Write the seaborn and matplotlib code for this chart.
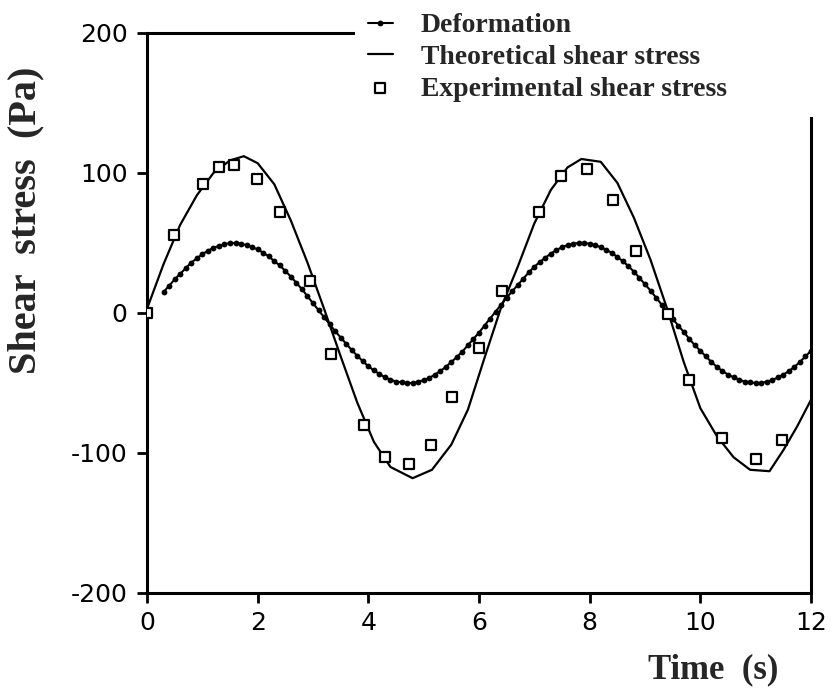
import matplotlib
matplotlib.use("Agg")
import matplotlib.pyplot as plt
import seaborn as sns

# values
time_deform = [0.3, 0.4, 0.5, 0.6, 0.7, 0.8, 0.9, 1.0, 1.1, 1.2, 1.3, 1.4, 1.5, 1.6, 1.7, 1.8, 1.9, 2.0,
               2.1, 2.2, 2.3, 2.4, 2.5, 2.6, 2.7, 2.8, 2.9, 3.0, 3.1, 3.2, 3.3, 3.4, 3.5, 3.6, 3.7, 3.8,
               3.9, 4.0, 4.1, 4.2, 4.3, 4.4, 4.5, 4.6, 4.7, 4.8, 4.9, 5.0, 5.1, 5.2, 5.3, 5.4, 5.5, 5.6,
               5.7, 5.8, 5.9, 6.0, 6.1, 6.2, 6.3, 6.4, 6.5, 6.6, 6.7, 6.8, 6.9, 7.0, 7.1, 7.2, 7.3, 7.4,
               7.5, 7.6, 7.7, 7.8, 7.9, 8.0, 8.1, 8.2, 8.3, 8.4, 8.5, 8.6, 8.7, 8.8, 8.9, 9.0, 9.1, 9.2,
               9.3, 9.4, 9.5, 9.6, 9.7, 9.8, 9.9, 10.0, 10.1, 10.2, 10.3, 10.4, 10.5, 10.6, 10.7, 10.8,
               10.9, 11.0, 11.1, 11.2, 11.3, 11.4, 11.5, 11.6, 11.7, 11.8, 11.9, 12.0]
deformation = [15, 19.5, 24, 28, 32, 36, 39, 42, 44.5, 46.5, 48, 49, 50, 50, 49.5, 48.5, 47, 45.5,
               43, 40.5, 37, 34, 30, 26, 21.5, 17, 12, 7, 2, -3, -8, -13, -17.5, -22, -26.5, -30.5,
               -34.5, -38, -41, -43.5, -46, -47.5, -49, -49.5, -50, -50, -49, -48, -46.5, -44, -41.5, -38.5, -35, -31.5,
               -27.5, -23, -18.5, -14, -9, -4, 1, 6, 11, 15.5, 20, 24.5, 29, 33, 36.5, 39.5, 42.5, 45,
               47, 48.5, 49.5, 50, 50, 49.5, 48.5, 47, 45, 43, 40, 37, 33.5, 29.5, 25, 20.5, 16, 11,
               6, 1, -4, -9, -13.5, -18.5, -23, -27, -31, -35, -38.5, -41.5, -44, -46, -47.5, -49,
               -49.5, -50, -50, -49, -48, -46, -44, -41.5, -38.5, -35, -31, -27]

time_theory = [0.0, 0.3, 0.6, 0.9, 1.2, 1.5, 1.75, 2.0, 2.3, 2.6, 2.9, 3.2, 3.5, 3.8, 4.1, 4.4, 4.8,
               5.15, 5.5, 5.8, 6.1, 6.4, 6.7, 7.0, 7.3, 7.6, 7.85, 8.2, 8.5, 8.8, 9.1, 9.4, 9.7, 10.0,
               10.3, 10.6, 10.9, 11.25, 11.5, 11.75, 12.0]
theory_stress = [3, 35, 63, 84, 100, 109, 112, 107, 92, 66, 36, 3, -31, -64, -92, -110, -118,
                 -112, -94, -69, -32, 4, 33, 64, 88, 104, 110, 108, 93, 68, 38, 3, -35, -68,
                 -88, -103, -112, -113, -98, -81, -62]

time_exp = [0.0, 0.49, 1.02, 1.30, 1.58, 1.98, 2.40, 2.95, 3.33, 3.93, 4.31, 4.73, 5.13, 5.52,
            6.0, 6.41, 7.09, 7.49, 7.96, 8.43, 8.84, 9.42, 9.80, 10.39, 11.01, 11.48]
exp_stress = [0, 56, 92, 104, 106, 96, 72, 23, -29, -80, -103, -108, -94, -60,
              -25, 16, 72, 98, 103, 81, 44, -1, -48, -89, -104, -91]

x_ticks = [0, 2, 4, 6, 8, 10, 12]
y_ticks = [-200, -100, 0, 100, 200]

sns.set_style("ticks")
plt.rcParams['axes.unicode_minus'] = False
plt.rcParams['font.family'] = ['DejaVu Sans']

fig = plt.figure(figsize=(8.37, 6.98), dpi=100)
ax = fig.add_axes([147 / 837, 1 - 593 / 698, 664 / 837, 560 / 698])

sns.lineplot(x=time_deform, y=deformation, ax=ax, color='black', linewidth=1.5,
             marker='o', markersize=4.2, markeredgewidth=0, label='Deformation', sort=False)
sns.lineplot(x=time_theory, y=theory_stress, ax=ax, color='black', linewidth=1.6,
             label='Theoretical shear stress', sort=False)
sns.scatterplot(x=time_exp, y=exp_stress, ax=ax, marker='s', s=60, facecolor='white',
                edgecolor='black', linewidth=1.6, label='Experimental shear stress', zorder=5)

ax.set_xlim(0, 12)
ax.set_ylim(-200, 200)
ax.set_xticks(x_ticks)
ax.set_yticks(y_ticks)
ax.tick_params(axis='both', direction='out', length=7, width=2, labelsize=18, colors='black')
ax.tick_params(axis='y', pad=7)
ax.tick_params(axis='x', pad=6)

for side in ['left', 'bottom', 'top', 'right']:
    ax.spines[side].set_linewidth(2.2)
    ax.spines[side].set_color('black')
# the legend sits over the top right corner of the frame
ax.spines['top'].set_bounds(0, 3.72)
ax.spines['right'].set_bounds(-200, 139)

ax.set_xlabel('Time  (s)', fontsize=25, fontweight='bold', family='Liberation Serif',
              ha='center', va='top')
ax.xaxis.set_label_coords(0.852, -0.108)
ax.set_ylabel('Shear  stress  (Pa)', fontsize=29, fontweight='bold', family='Liberation Serif',
              ha='center', va='center')
ax.yaxis.set_label_coords(-0.182, 0.666)

leg = ax.legend(loc='upper left', bbox_to_anchor=(368 / 837, 1 - 13 / 698),
                bbox_transform=fig.transFigure, frameon=False, borderpad=0, borderaxespad=0,
                handlelength=0.9, handletextpad=1.0, labelspacing=0.22,
                prop={'family': 'Liberation Serif', 'weight': 'bold', 'size': 20})

fig.savefig('out.png', dpi=100)
